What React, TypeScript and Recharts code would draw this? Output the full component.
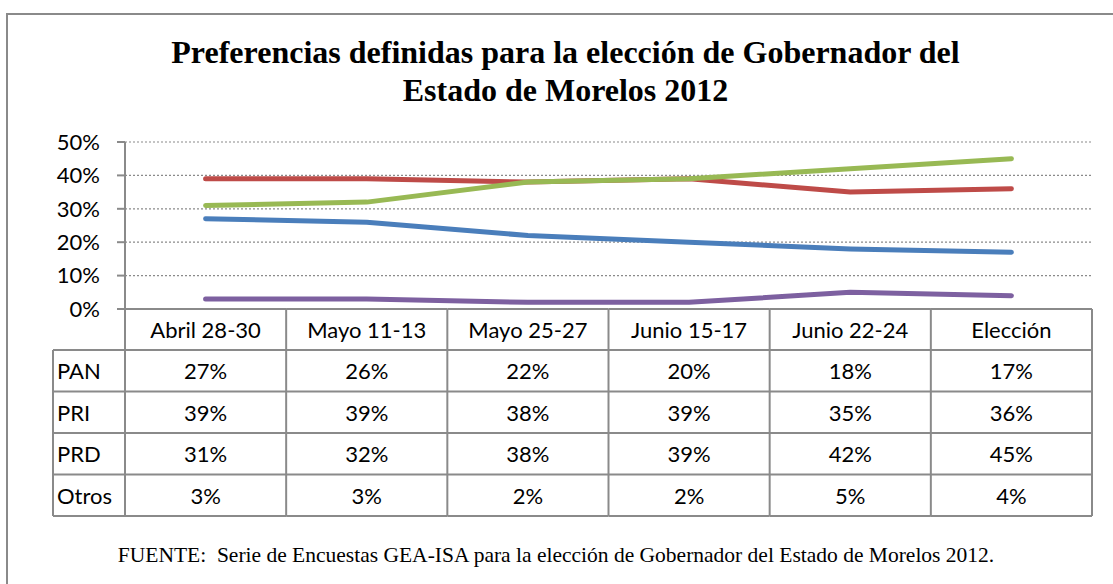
import { LineChart, Line, XAxis, YAxis, CartesianGrid } from 'recharts';

const categories = ['Abril 28-30', 'Mayo 11-13', 'Mayo 25-27', 'Junio 15-17', 'Junio 22-24', 'Elección'];
const pan = [27, 26, 22, 20, 18, 17];
const pri = [39, 39, 38, 39, 35, 36];
const prd = [31, 32, 38, 39, 42, 45];
const otros = [3, 3, 2, 2, 5, 4];
const seriesNames = ['PAN', 'PRI', 'PRD', 'Otros'];
const seriesColors = ['#4a7ebb', '#be4b48', '#98b954', '#7d60a0'];
const yTicks = [0, 10, 20, 30, 40, 50];

const seriesValues = [pan, pri, prd, otros];
const data = categories.map((c, i) => ({ name: c, PAN: pan[i], PRI: pri[i], PRD: prd[i], Otros: otros[i] }));

const W = 1113;
const H = 584;
const PLOT_LEFT = 125;
const PLOT_RIGHT = 1092;
const PLOT_TOP = 142;
const TABLE_TOP = 309;
const TABLE_BOTTOM = 516;
const LABEL_LEFT = 53;
const COL_W = (PLOT_RIGHT - PLOT_LEFT) / categories.length;
const rowLines = [309, 350, 391.5, 433, 474.5, 516];
const GRAY = '#8a8a8a';
const FONT = 'Lato, "Noto Sans", sans-serif';

const TableColumn = (props: any) => {
  const { x, index, payload } = props;
  const left = x - COL_W / 2;
  const right = x + COL_W / 2;
  return (
    <g>
      {rowLines.map((ly, i) => (
        <line key={`h${i}`} x1={left} x2={right} y1={ly} y2={ly} stroke={GRAY} strokeWidth={2} />
      ))}
      <line x1={right} x2={right} y1={TABLE_TOP} y2={TABLE_BOTTOM} stroke={GRAY} strokeWidth={2} />
      {index === 0 && (
        <g>
          <line x1={left} x2={left} y1={TABLE_TOP} y2={TABLE_BOTTOM} stroke={GRAY} strokeWidth={2} />
          <line x1={LABEL_LEFT} x2={LABEL_LEFT} y1={rowLines[1]} y2={TABLE_BOTTOM} stroke={GRAY} strokeWidth={2} />
          {rowLines.slice(1).map((ly, i) => (
            <line key={`lh${i}`} x1={LABEL_LEFT} x2={left} y1={ly} y2={ly} stroke={GRAY} strokeWidth={2} />
          ))}
          {seriesNames.map((n, r) => (
            <text key={n} x={LABEL_LEFT + 4} y={(rowLines[r + 1] + rowLines[r + 2]) / 2} dominantBaseline="central" fontSize={22} fontFamily={FONT} fill="#000">
              {n}
            </text>
          ))}
        </g>
      )}
      <text x={x} y={(rowLines[0] + rowLines[1]) / 2} textAnchor="middle" dominantBaseline="central" fontSize={22} fontFamily={FONT} fill="#000">
        {payload.value}
      </text>
      {seriesValues.map((vals, r) => (
        <text key={r} x={x} y={(rowLines[r + 1] + rowLines[r + 2]) / 2} textAnchor="middle" dominantBaseline="central" fontSize={22} fontFamily={FONT} fill="#000">
          {`${vals[index]}%`}
        </text>
      ))}
    </g>
  );
};

export default function App() {
  return (
    <div style={{ position: 'absolute', left: 0, top: 0, width: W, height: H, background: '#fff', overflow: 'hidden' }}>
      <div style={{ position: 'absolute', left: 6, top: 13, width: 1200, height: 700, border: `2px solid ${GRAY}` }} />
      <div
        style={{
          position: 'absolute',
          left: 0,
          top: 33,
          width: 1131,
          textAlign: 'center',
          fontFamily: '"Liberation Serif", "Times New Roman", serif',
          fontWeight: 'bold',
          fontSize: 32,
          lineHeight: '38px',
          color: '#000',
        }}
      >
        Preferencias definidas para la elección de Gobernador del
        <br />
        Estado de Morelos 2012
      </div>
      <div style={{ position: 'absolute', left: 0, top: 0 }}>
        <LineChart width={W} height={H} data={data} margin={{ top: PLOT_TOP, right: W - PLOT_RIGHT, bottom: H - TABLE_BOTTOM, left: 0 }}>
          <CartesianGrid vertical={false} stroke={GRAY} strokeDasharray="2 2" strokeWidth={1.2} />
          <XAxis
            dataKey="name"
            height={TABLE_BOTTOM - TABLE_TOP}
            padding={{ left: COL_W / 2, right: COL_W / 2 }}
            axisLine={false}
            tickLine={false}
            interval={0}
            tick={(p: any) => <TableColumn {...p} />}
          />
          <YAxis
            width={PLOT_LEFT}
            domain={[0, 50]}
            ticks={yTicks}
            tickFormatter={(v) => `${v}%`}
            axisLine={{ stroke: GRAY, strokeWidth: 2 }}
            tickLine={{ stroke: GRAY, strokeWidth: 2 }}
            tickSize={8}
            tickMargin={17}
            tick={{ fontSize: 22, fontFamily: FONT, fill: '#000' }}
          />
          {seriesNames.map((n, i) => (
            <Line
              key={n}
              dataKey={n}
              stroke={seriesColors[i]}
              strokeWidth={5}
              strokeLinecap="round"
              strokeLinejoin="round"
              dot={false}
              activeDot={false}
              type="linear"
              isAnimationActive={false}
            />
          ))}
        </LineChart>
      </div>
      <div
        style={{
          position: 'absolute',
          left: 0,
          top: 543,
          width: 1112,
          textAlign: 'center',
          fontFamily: '"Liberation Serif", "Times New Roman", serif',
          fontSize: 21.5,
          color: '#000',
        }}
      >
        FUENTE:&nbsp; Serie de Encuestas GEA-ISA para la elección de Gobernador del Estado de Morelos 2012.
      </div>
    </div>
  );
}
